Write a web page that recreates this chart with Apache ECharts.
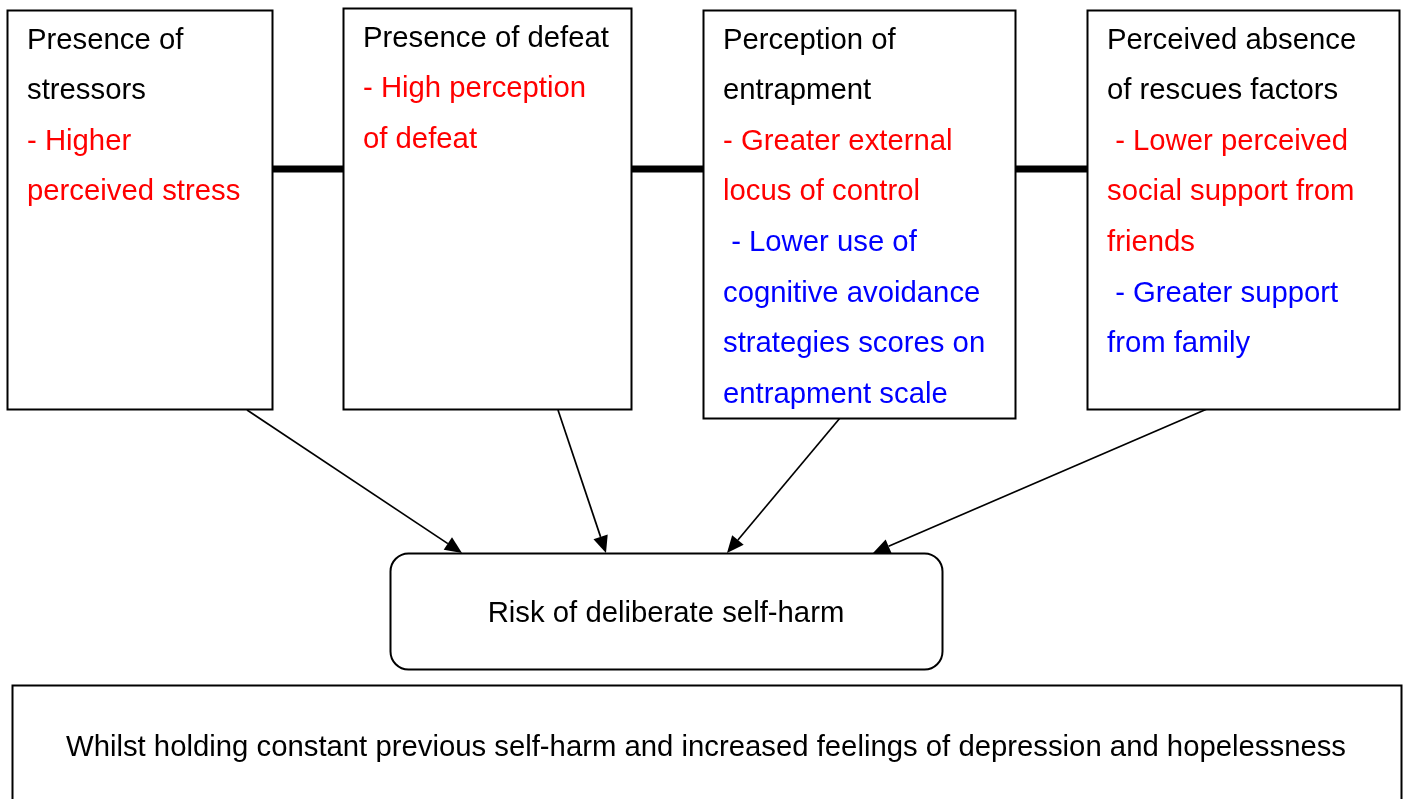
<!DOCTYPE html>
<html>
<head>
<meta charset="utf-8">
<script src="https://cdn.jsdelivr.net/npm/echarts@6/dist/echarts.min.js"></script>
<style>
html,body{margin:0;padding:0;background:#fff;}
#main{width:1403px;height:799px;}
</style>
</head>
<body>
<div id="main"></div>
<script>
// ---- content ----
const boxTitles = [
  ["Presence of", "stressors"],
  ["Presence of defeat"],
  ["Perception of", "entrapment"],
  ["Perceived absence", "of rescues factors"]
];
const riskFactorLines = [
  ["- Higher", "perceived stress"],
  ["- High perception", "of defeat"],
  ["- Greater external", "locus of control"],
  [" - Lower perceived", "social support from", "friends"]
];
const protectiveLines = [
  [],
  [],
  [" - Lower use of", "cognitive avoidance", "strategies scores on", "entrapment scale"],
  [" - Greater support", "from family"]
];
const outcomeLabel = "Risk of deliberate self-harm";
const covariateNote = "Whilst holding constant previous self-harm and increased feelings of depression and hopelessness";

// ---- layout (positions/sizes/styles) ----
const FONT = '"Liberation Sans", Arial, sans-serif';
const FS = 29.3;
const LH = 50.6;
const boxRects = [
  {x: 7, y: 10, w: 265, h: 399},
  {x: 343, y: 8, w: 288, h: 401},
  {x: 703, y: 10, w: 312, h: 408},
  {x: 1087, y: 10, w: 312, h: 399}
];
const textPadX = 20, textFirstY = 30.5;
const connectorY = 169;
const outcomeRect = {x: 390, y: 553, w: 552, h: 116, r: 18};
const noteRect = {x: 12, y: 685, w: 1389, h: 140};
const noteTextY = 748;
const arrows = [
  [[247, 410], [462, 553]],
  [[558, 410], [606, 553]],
  [[840, 418], [727, 553]],
  [[1207, 409], [873, 553]]
];
const RED = '#FF0000', BLUE = '#0000FF', BLACK = '#000000';

const elements = [];

// connectors between boxes
for (let i = 0; i < boxRects.length - 1; i++) {
  const a = boxRects[i], b = boxRects[i + 1];
  elements.push({
    type: 'line', z: 1,
    shape: {x1: a.x + a.w, y1: connectorY, x2: b.x, y2: connectorY},
    style: {stroke: BLACK, lineWidth: 7}
  });
}

// boxes + texts
boxRects.forEach((r, i) => {
  elements.push({
    type: 'rect', z: 2,
    shape: {x: r.x + 0.5, y: r.y + 0.5, width: r.w, height: r.h},
    style: {fill: '#fff', stroke: BLACK, lineWidth: 2}
  });
  const lines = [];
  boxTitles[i].forEach(t => lines.push([t, BLACK]));
  riskFactorLines[i].forEach(t => lines.push([t, RED]));
  protectiveLines[i].forEach(t => lines.push([t, BLUE]));
  lines.forEach((ln, k) => {
    elements.push({
      type: 'text', z: 3,
      x: r.x + textPadX, y: r.y + textFirstY + k * LH,
      style: {text: ln[0], fill: ln[1], font: FS + 'px ' + FONT, textAlign: 'left', textVerticalAlign: 'middle'}
    });
  });
});

// arrows
arrows.forEach(([p0, p1]) => {
  const dx = p1[0] - p0[0], dy = p1[1] - p0[1];
  const len = Math.hypot(dx, dy);
  const ux = dx / len, uy = dy / len;
  const hl = 17, hw = 7.5;
  const bx = p1[0] - ux * hl, by = p1[1] - uy * hl;
  elements.push({
    type: 'line', z: 1,
    shape: {x1: p0[0], y1: p0[1], x2: bx, y2: by},
    style: {stroke: BLACK, lineWidth: 1.7}
  });
  elements.push({
    type: 'polygon', z: 4,
    shape: {points: [[p1[0], p1[1]], [bx - uy * hw, by + ux * hw], [bx + uy * hw, by - ux * hw]]},
    style: {fill: BLACK}
  });
});

// outcome box
elements.push({
  type: 'rect', z: 2,
  shape: {x: outcomeRect.x + 0.5, y: outcomeRect.y + 0.5, width: outcomeRect.w, height: outcomeRect.h, r: outcomeRect.r},
  style: {fill: '#fff', stroke: BLACK, lineWidth: 2}
});
elements.push({
  type: 'text', z: 3,
  x: outcomeRect.x + outcomeRect.w / 2, y: outcomeRect.y + outcomeRect.h / 2 + 2.5,
  style: {text: outcomeLabel, fill: BLACK, font: FS + 'px ' + FONT, textAlign: 'center', textVerticalAlign: 'middle'}
});

// covariate note box
elements.push({
  type: 'rect', z: 2,
  shape: {x: noteRect.x + 0.5, y: noteRect.y + 0.5, width: noteRect.w, height: noteRect.h},
  style: {fill: '#fff', stroke: BLACK, lineWidth: 2}
});
elements.push({
  type: 'text', z: 3,
  x: 706, y: noteTextY,
  style: {text: covariateNote, fill: BLACK, font: FS + 'px ' + FONT, textAlign: 'center', textVerticalAlign: 'middle'}
});

const chart = echarts.init(document.getElementById('main'), null, {renderer: 'canvas'});
chart.setOption({
  backgroundColor: '#ffffff',
  animation: false,
  graphic: {elements: elements}
});
</script>
</body>
</html>
